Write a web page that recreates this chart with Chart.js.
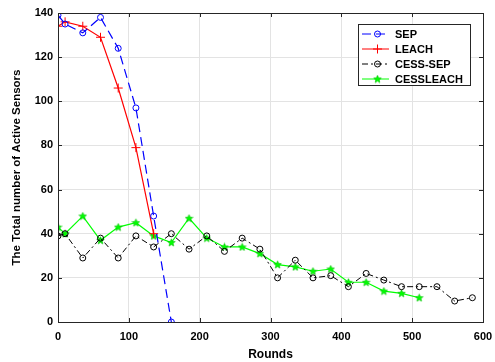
<!DOCTYPE html>
<html>
<head>
<meta charset="utf-8">
<script src="https://cdn.jsdelivr.net/npm/chart.js@4/dist/chart.umd.min.js"></script>
<style>
  html, body { margin: 0; padding: 0; background: #fff; }
  #wrap { width: 495px; height: 362px; }
</style>
</head>
<body>
<div id="wrap"><canvas id="nodes" width="495" height="362"></canvas></div>
<script>
// rounds / alive sensors
var sepRounds = [0, 10, 35, 60, 85, 110, 135, 160]
var sepAlive = [139, 135, 131, 138, 124, 97, 48, 0]

var leachRounds = [0, 10, 35, 60, 85, 110, 135]
var leachAlive = [134, 136, 134, 129, 106, 79, 40]

var cessSepRounds = [0, 10, 35, 60, 85, 110, 135, 160, 185, 210, 235, 260, 285, 310, 335, 360, 385, 410, 435, 460, 485, 510, 535, 560, 585]
var cessSepAlive = [39, 40, 29, 38, 29, 39, 34, 40, 33, 39, 32, 38, 33, 20, 28, 20, 21, 16, 22, 19, 16, 16, 16, 9.5, 11]

var cessLeachRounds = [0, 10, 35, 60, 85, 110, 135, 160, 185, 210, 235, 260, 285, 310, 335, 360, 385, 410, 435, 460, 485, 510]
var cessLeachAlive = [43, 40, 48, 37, 43, 45, 39, 36, 47, 38, 34, 34, 31, 26, 25, 23, 24, 18, 18, 14, 13, 11]

var xTicks = [0, 100, 200, 300, 400, 500, 600]
var yTicks = [0, 20, 40, 60, 80, 100, 120, 140]

function pts(xs, ys) {
    var out = []
    for (var i = 0; i < xs.length; i++) out.push({ x: xs[i], y: ys[i] })
    return out
}

// filled pentagram marker like matlab's 'p'
function starMarker(col) {
    var c = document.createElement('canvas')
    c.width = 9; c.height = 9
    var g = c.getContext('2d')
    g.beginPath()
    for (var i = 0; i < 10; i++) {
        var r = i % 2 == 0 ? 4 : 1.8
        var a = -Math.PI / 2 + i * Math.PI / 5
        var px = 4.5 + r * Math.cos(a), py = 4.8 + r * Math.sin(a)
        if (i == 0) g.moveTo(px, py); else g.lineTo(px, py)
    }
    g.closePath()
    g.fillStyle = col
    g.fill()
    g.strokeStyle = '#00c000'
    g.lineWidth = 0.6
    g.stroke()
    return c
}
var greenStar = starMarker('#00ff00')

var boxPlugin = {
    id: 'matlabBox',
    afterDraw: function (chart) {
        var ctx = chart.ctx, a = chart.chartArea
        var xs = chart.scales.x, ys = chart.scales.y
        ctx.save()
        ctx.strokeStyle = '#262626'
        ctx.lineWidth = 1
        // inward ticks
        ctx.beginPath()
        xTicks.forEach(function (v) {
            var px = Math.round(xs.getPixelForValue(v)) + 0.5
            ctx.moveTo(px, a.bottom); ctx.lineTo(px, a.bottom - 4)
            ctx.moveTo(px, a.top); ctx.lineTo(px, a.top + 4)
        })
        yTicks.forEach(function (v) {
            var py = Math.round(ys.getPixelForValue(v)) + 0.5
            ctx.moveTo(a.left, py); ctx.lineTo(a.left + 4, py)
            ctx.moveTo(a.right, py); ctx.lineTo(a.right - 4, py)
        })
        ctx.stroke()
        ctx.strokeRect(Math.round(a.left) + 0.5, Math.round(a.top) + 0.5, Math.round(a.right - a.left), Math.round(a.bottom - a.top))

        // legend box in the upper right
        var lx = 358, ly = 24, lw = 112, lh = 61
        ctx.fillStyle = '#fff'
        ctx.fillRect(lx, ly, lw, lh)
        ctx.strokeStyle = '#262626'
        ctx.strokeRect(lx + 0.5, ly + 0.5, lw, lh)
        ctx.font = 'bold 11px "Liberation Sans", Arial, sans-serif'
        ctx.textBaseline = 'middle'
        chart.data.datasets.forEach(function (ds, i) {
            var cy = ly + 10 + i * 15
            ctx.save()
            ctx.strokeStyle = ds.borderColor
            ctx.fillStyle = ds.backgroundColor
            ctx.lineWidth = 1
            ctx.setLineDash(ds.borderDash || [])
            ctx.beginPath()
            ctx.moveTo(lx + 4, cy); ctx.lineTo(lx + 31, cy)
            ctx.stroke()
            ctx.setLineDash([])
            Chart.helpers.drawPoint(ctx, {
                pointStyle: ds.pointStyle, radius: ds.pointRadius, borderWidth: 1, rotation: 0
            }, lx + 19.5, cy)
            ctx.restore()
            ctx.fillStyle = '#000'
            ctx.fillText(ds.label, lx + 37, cy + 1)
        })
        ctx.restore()
    }
}

var ctx = document.getElementById('nodes').getContext('2d')
var tickFont = { family: '"Liberation Sans", Arial, sans-serif', size: 11, weight: 'bold' }

var myChart = new Chart(ctx, {
    type: 'line',
    data: {
        datasets: [
            {
                label: 'SEP', data: pts(sepRounds, sepAlive),
                borderColor: '#0000ff', backgroundColor: 'rgba(0,0,0,0)', borderWidth: 1.2,
                borderDash: [9, 5], pointStyle: 'circle', pointRadius: 3, pointBorderWidth: 1
            },
            {
                label: 'LEACH', data: pts(leachRounds, leachAlive),
                borderColor: '#ff0000', backgroundColor: '#ff0000', borderWidth: 1.2,
                pointStyle: 'cross', pointRadius: 4.5, pointBorderWidth: 1
            },
            {
                label: 'CESS-SEP', data: pts(cessSepRounds, cessSepAlive),
                borderColor: '#000000', backgroundColor: 'rgba(0,0,0,0)', borderWidth: 1,
                borderDash: [6, 3, 2, 3], pointStyle: 'circle', pointRadius: 3, pointBorderWidth: 1
            },
            {
                label: 'CESSLEACH', data: pts(cessLeachRounds, cessLeachAlive),
                borderColor: '#00ff00', backgroundColor: '#00ff00', borderWidth: 1.2,
                pointStyle: greenStar, pointRadius: 4
            }
        ]
    },
    options: {
        responsive: false,
        animation: false,
        devicePixelRatio: 1,
        layout: { padding: { top: 13, right: 12, left: 0, bottom: 0 } },
        plugins: { legend: { display: false }, tooltip: { enabled: false } },
        scales: {
            x: {
                type: 'linear', min: 0, max: 600,
                afterBuildTicks: function (s) { s.ticks = xTicks.map(function (v) { return { value: v } }) },
                afterFit: function (s) { s.height = 40; s.paddingLeft = 0; s.paddingRight = 0 },
                grid: { color: '#e3e3e3', tickLength: 0 },
                border: { display: false },
                ticks: { color: '#000', font: tickFont, padding: 8, maxRotation: 0 },
                title: { display: true, text: 'Rounds', color: '#000', font: { family: tickFont.family, size: 12, weight: 'bold' }, padding: { top: 0, bottom: 0 } }
            },
            y: {
                type: 'linear', min: 0, max: 140,
                afterBuildTicks: function (s) { s.ticks = yTicks.map(function (v) { return { value: v } }) },
                afterFit: function (s) { s.width = 58; s.paddingTop = 0; s.paddingBottom = 0 },
                grid: { color: '#e3e3e3', tickLength: 0 },
                border: { display: false },
                ticks: { color: '#000', font: tickFont, padding: 5 },
                title: { display: true, text: 'The Total number of Active Sensors', color: '#000', font: { family: tickFont.family, size: 11.5, weight: 'bold' }, padding: { top: 10, bottom: 0 } }
            }
        }
    },
    plugins: [boxPlugin]
})
</script>
</body>
</html>
